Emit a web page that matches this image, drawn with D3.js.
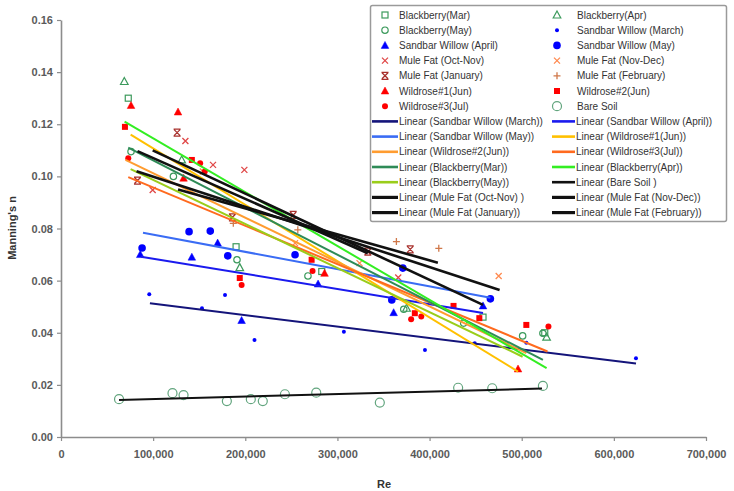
<!DOCTYPE html>
<html>
<head>
<meta charset="utf-8">
<script src="https://cdn.jsdelivr.net/npm/d3@7"></script>
<style>
  body { margin: 0; background: #fff; }
  text { font-family: "Liberation Sans", Arial, sans-serif; }
</style>
</head>
<body>
<div id="chart"></div>
<script>
// point data: [Re, Manning's n]
const bbMar = [[73000,0.130],[190000,0.073],[283000,0.0635],[458000,0.0460],[525000,0.0400]];
const bbApr = [[68700,0.1364],[131000,0.1063],[194000,0.0650],[375000,0.0494],[527000,0.0383]];
const bbMay = [[76000,0.1095],[122000,0.1000],[191000,0.0680],[268000,0.0618],[372000,0.0490],[437000,0.0437],[501000,0.0388],[523000,0.0398]];
const swMar = [[95800,0.0548],[153000,0.0494],[178000,0.0545],[210000,0.0372],[307000,0.0404],[395000,0.0334],[449000,0.0360],[505000,0.0362],[624000,0.0302]];
const swApr = [[86000,0.0700],[142000,0.0690],[170000,0.0744],[196000,0.0447],[279000,0.0587],[361000,0.0477],[458000,0.0503]];
const swMay = [[88000,0.0725],[139000,0.0788],[162000,0.0790],[181000,0.0695],[254000,0.0699],[359000,0.0526],[371000,0.0648],[466000,0.0530]];
const mfOctNov = [[99500,0.0948],[135000,0.1136],[165000,0.1044],[199000,0.1025],[366000,0.0612]];
const mfNovDec = [[154000,0.1019],[254000,0.0744],[324000,0.0667],[475000,0.0618]];
const mfJan = [[83000,0.0984],[126000,0.1168],[186000,0.0843],[252000,0.0852],[333000,0.0711],[379000,0.0720]];
const mfFeb = [[187000,0.0820],[257000,0.0795],[364000,0.0750],[410000,0.0724]];
const wr1 = [[76000,0.1272],[127000,0.1247],[133000,0.0993],[286000,0.0628],[496000,0.0261]];
const wr2 = [[69400,0.1190],[142000,0.1063],[194000,0.0610],[272000,0.0680],[384000,0.0475],[426000,0.0503],[454000,0.0456],[505000,0.0430]];
const wr3 = [[73000,0.1070],[151000,0.1050],[156000,0.1019],[196000,0.0583],[273000,0.0637],[380000,0.0452],[391000,0.0462],[529000,0.0424]];
const bare = [[63000,0.0145],[121000,0.0168],[133000,0.0161],[180000,0.0138],[206000,0.0145],[219000,0.0138],[243000,0.0164],[277000,0.0170],[346000,0.0132],[431000,0.0189],[468000,0.0187],[523000,0.0196]];

// trend line end points
const trendSwMar = [[96500,0.0513],[624000,0.0282]];
const trendSwApr = [[86800,0.0692],[458000,0.0476]];
const trendSwMay = [[89000,0.0784],[466000,0.0534]];
const trendWr1 = [[75600,0.1160],[496000,0.0251]];
const trendWr2 = [[70000,0.1063],[505000,0.0322]];
const trendWr3 = [[73000,0.0997],[528000,0.0328]];
const trendBbMar = [[73000,0.1110],[523000,0.0296]];
const trendBbApr = [[69000,0.1210],[527000,0.0264]];
const trendBbMay = [[75600,0.1028],[501000,0.0308]];
const trendBare = [[63000,0.0142],[522000,0.0186]];
const trendMfOctNov = [[99500,0.1100],[458000,0.0507]];
const trendMfNovDec = [[82000,0.1020],[476000,0.0564]];
const trendMfJan = [[83000,0.1097],[333000,0.0705]];
const trendMfFeb = [[127000,0.0950],[409000,0.0669]];

const yTicks = [0, 0.02, 0.04, 0.06, 0.08, 0.10, 0.12, 0.14, 0.16];
const xTicks = [0, 100000, 200000, 300000, 400000, 500000, 600000, 700000];

const series = [
  {name: "Blackberry(Mar)", data: bbMar, mark: "sqOpen", color: "#3c9a5c"},
  {name: "Blackberry(Apr)", data: bbApr, mark: "triOpen", color: "#3c9a5c"},
  {name: "Blackberry(May)", data: bbMay, mark: "circOpen", color: "#3c9a5c"},
  {name: "Sandbar Willow (March)", data: swMar, mark: "dotSmall", color: "#0000ff"},
  {name: "Sandbar Willow (April)", data: swApr, mark: "triFill", color: "#0000ff"},
  {name: "Sandbar Willow (May)", data: swMay, mark: "dotBig", color: "#0000ff"},
  {name: "Mule Fat (Oct-Nov)", data: mfOctNov, mark: "cross", color: "#e04848"},
  {name: "Mule Fat (Nov-Dec)", data: mfNovDec, mark: "cross", color: "#ff8a50"},
  {name: "Mule Fat (January)", data: mfJan, mark: "crossBar", color: "#a8302c"},
  {name: "Mule Fat (February)", data: mfFeb, mark: "plus", color: "#d0784a"},
  {name: "Wildrose#1(Jun)", data: wr1, mark: "triFill", color: "#ff0000"},
  {name: "Wildrose#2(Jun)", data: wr2, mark: "sqFill", color: "#ff0000"},
  {name: "Wildrose#3(Jul)", data: wr3, mark: "dotMid", color: "#ff0000"},
  {name: "Bare Soil", data: bare, mark: "circBig", color: "#62a57e"}
];

const trends = [
  {name: "Linear (Sandbar Willow (March))", data: trendSwMar, color: "#14147a", w: 2},
  {name: "Linear (Sandbar Willow (April))", data: trendSwApr, color: "#1a1aee", w: 2},
  {name: "Linear (Sandbar Willow (May))", data: trendSwMay, color: "#3a6cf4", w: 2},
  {name: "Linear (Wildrose#1(Jun))", data: trendWr1, color: "#ffc000", w: 2},
  {name: "Linear (Wildrose#2(Jun))", data: trendWr2, color: "#ff9c30", w: 2},
  {name: "Linear (Wildrose#3(Jul))", data: trendWr3, color: "#ff6a1e", w: 2},
  {name: "Linear (Blackberry(Mar))", data: trendBbMar, color: "#2e8b57", w: 2},
  {name: "Linear (Blackberry(Apr))", data: trendBbApr, color: "#33ee22", w: 2},
  {name: "Linear (Blackberry(May))", data: trendBbMay, color: "#9acd1a", w: 2},
  {name: "Linear (Bare Soil )", data: trendBare, color: "#111", w: 2},
  {name: "Linear (Mule Fat (Oct-Nov) )", data: trendMfOctNov, color: "#111", w: 2.6},
  {name: "Linear (Mule Fat (Nov-Dec))", data: trendMfNovDec, color: "#111", w: 2.6},
  {name: "Linear (Mule Fat (January))", data: trendMfJan, color: "#111", w: 2.6},
  {name: "Linear (Mule Fat (February))", data: trendMfFeb, color: "#111", w: 2.6}
];

const width = 734, height = 491;
const x = d3.scaleLinear().domain([0, 700000]).range([61, 706]);
const y = d3.scaleLinear().domain([0, 0.16]).range([437, 20]);

const svg = d3.select("#chart").append("svg")
    .attr("width", width)
    .attr("height", height);

// draws one marker centred at 0,0
function drawMarker(g, kind, color) {
  if (kind === "sqOpen") {
    g.append("rect").attr("x", -3).attr("y", -3).attr("width", 6).attr("height", 6)
      .attr("fill", "none").attr("stroke", color).attr("stroke-width", 1.2);
  } else if (kind === "triOpen" || kind === "triFill") {
    g.append("path").attr("d", "M0,-4L3.8,3L-3.8,3Z")
      .attr("fill", kind === "triFill" ? color : "none")
      .attr("stroke", color).attr("stroke-width", kind === "triFill" ? 0.5 : 1.2);
  } else if (kind === "circOpen" || kind === "circBig") {
    g.append("circle").attr("r", kind === "circBig" ? 4.5 : 3.2)
      .attr("fill", "none").attr("stroke", color).attr("stroke-width", 1.2);
  } else if (kind === "dotSmall" || kind === "dotBig" || kind === "dotMid") {
    const r = {dotSmall: 2, dotBig: 3.8, dotMid: 3}[kind];
    g.append("circle").attr("r", r).attr("fill", color);
  } else if (kind === "sqFill") {
    g.append("rect").attr("x", -3).attr("y", -3).attr("width", 6).attr("height", 6).attr("fill", color);
  } else if (kind === "cross") {
    g.append("path").attr("d", "M-3,-3L3,3M-3,3L3,-3")
      .attr("stroke", color).attr("stroke-width", 1.3).attr("fill", "none");
  } else if (kind === "crossBar") {
    g.append("path").attr("d", "M-3,-3L3,3M-3,3L3,-3M-3.5,-3.5L3.5,-3.5M-3.5,3.5L3.5,3.5")
      .attr("stroke", color).attr("stroke-width", 1.3).attr("fill", "none");
  } else if (kind === "plus") {
    g.append("path").attr("d", "M-3.5,0L3.5,0M0,-3.5L0,3.5")
      .attr("stroke", color).attr("stroke-width", 1.3).attr("fill", "none");
  }
}

// axes
const yAxis = svg.append("g")
    .attr("transform", `translate(${x(0)},0)`)
    .call(d3.axisLeft(y).tickValues(yTicks).tickFormat(d3.format(".2f")).tickSize(4).tickPadding(4).tickSizeOuter(0));
const xAxis = svg.append("g")
    .attr("transform", `translate(0,${y(0)})`)
    .call(d3.axisBottom(x).tickValues(xTicks).tickFormat(d => d === 0 ? "0" : d3.format(",")(d)).tickSize(4).tickPadding(9).tickSizeOuter(0));

[xAxis, yAxis].forEach(a => {
  a.select(".domain").attr("stroke", "#8c8c8c").attr("stroke-width", 1.6);
  a.selectAll(".tick line").attr("stroke", "#8c8c8c").attr("stroke-width", 1.2);
  a.selectAll(".tick text").attr("fill", "#5a5a5a").style("font-size", "11px").style("font-weight", "bold");
});

svg.append("text")
    .attr("transform", "translate(16,228) rotate(-90)")
    .attr("text-anchor", "middle")
    .style("font-size", "11px").style("font-weight", "bold").attr("fill", "#333")
    .text("Manning's n");
svg.append("text")
    .attr("x", 384).attr("y", 488)
    .attr("text-anchor", "middle")
    .style("font-size", "11px").style("font-weight", "bold").attr("fill", "#333")
    .text("Re");

// markers
series.forEach(s => {
  svg.append("g").selectAll("g")
    .data(s.data)
    .enter().append("g")
      .attr("transform", d => `translate(${x(d[0])},${y(d[1])})`)
      .each(function() { drawMarker(d3.select(this), s.mark, s.color); });
});

// trend lines
const line = d3.line().x(d => x(d[0])).y(d => y(d[1]));
trends.forEach(t => {
  svg.append("path")
    .datum(t.data)
    .attr("d", line)
    .attr("fill", "none")
    .attr("stroke", t.color)
    .attr("stroke-width", t.w);
});

// legend
const legend = svg.append("g");
legend.append("rect")
    .attr("x", 370.5).attr("y", 5.5).attr("width", 356).attr("height", 216)
    .attr("rx", 2)
    .attr("fill", "#fff").attr("stroke", "#9a9a9a").attr("stroke-width", 1.5);

const entries = series.map(s => ({name: s.name, s: s}))
  .concat(trends.map(t => ({name: t.name, t: t})));
entries.forEach((e, i) => {
  const col = i % 2, row = Math.floor(i / 2);
  const cy = 15 + row * 15.2;
  const g = legend.append("g");
  if (e.s) {
    const mx = col === 0 ? 385 : 557;
    drawMarker(g.append("g").attr("transform", `translate(${mx},${cy})`), e.s.mark, e.s.color);
    g.append("text").attr("x", col === 0 ? 399 : 577).attr("y", cy).attr("dy", "0.35em")
      .style("font-size", "10px").attr("fill", "#333").text(e.name);
  } else {
    const x0 = col === 0 ? 372 : 552, x1 = col === 0 ? 398 : 575;
    g.append("line").attr("x1", x0).attr("x2", x1).attr("y1", cy).attr("y2", cy)
      .attr("stroke", e.t.color).attr("stroke-width", e.t.w + 0.6);
    g.append("text").attr("x", x1 + 1).attr("y", cy).attr("dy", "0.35em")
      .style("font-size", "10px").attr("fill", "#333").text(e.name);
  }
});
</script>
</body>
</html>
